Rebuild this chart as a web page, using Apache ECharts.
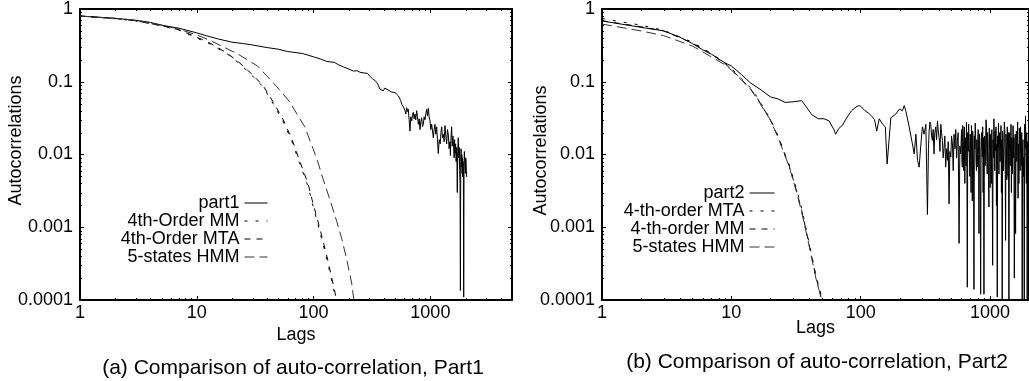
<!DOCTYPE html>
<html><head><meta charset="utf-8">
<script src="https://cdn.jsdelivr.net/npm/echarts@6/dist/echarts.min.js"></script>
<style>html,body{margin:0;padding:0;background:#fff}#c{width:1029px;height:381px}</style>
</head><body><div id="c"></div>
<script>
// ---------- tick definitions ----------
const X_TICKS = [1, 10, 100, 1000];
const X_TICK_LABELS = ['1', '10', '100', '1000'];
const Y_TICKS = [0.0001, 0.001, 0.01, 0.1, 1];
const Y_TICK_LABELS = ['0.0001', '0.001', '0.01', '0.1', '1'];
const MINOR_X = [2,3,4,5,6,7,8,9,20,30,40,50,60,70,80,90,200,300,400,500,600,700,800,900,2000,3000,4000];
const MINOR_Y = [0.0002,0.0003,0.0004,0.0005,0.0006,0.0007,0.0008,0.0009,
                 0.002,0.003,0.004,0.005,0.006,0.007,0.008,0.009,
                 0.02,0.03,0.04,0.05,0.06,0.07,0.08,0.09,
                 0.2,0.3,0.4,0.5,0.6,0.7,0.8,0.9];

// ---------- panel (a) : Part1 ----------
const LEFT_NAMES = ['part1', '4th-Order MM', '4th-Order MTA', '5-states HMM'];
const PART1 = [[1,0.80],[2,0.745],[3,0.70],[4,0.655],[5,0.60],[7,0.545],[10,0.47],[12,0.43],[15,0.39],[20,0.35],[25,0.335],[30,0.32],[40,0.295],[50,0.28],[60,0.26],[80,0.245],[100,0.22],[115,0.205],[130,0.19],[150,0.185],[165,0.17],[180,0.16],[200,0.15],[220,0.14],[235,0.142],[250,0.135],[270,0.132],[290,0.13],[305,0.118],[320,0.11],[335,0.104],[350,0.097],[360,0.088],[370,0.079],[382,0.081],[395,0.075],[408,0.082],[420,0.08],[435,0.077],[451,0.075],[466,0.072],[482,0.074],[498,0.071],[515,0.067],[532,0.064],[548,0.061],[558,0.055],[568,0.049],[578,0.052],[588,0.045],[598,0.043],[607,0.040],[617,0.036],[627,0.044],[637,0.039],[647,0.042],[658,0.030],[669,0.021],[680,0.033],[692,0.029],[703,0.035],[714,0.038],[726,0.031],[738,0.036],[750,0.030],[763,0.040],[776,0.033],[789,0.026],[802,0.031],[815,0.022],[828,0.028],[842,0.032],[856,0.024],[870,0.026],[884,0.033],[899,0.030],[914,0.036],[930,0.042],[945,0.034],[961,0.043],[976,0.033],[992,0.029],[1009,0.022],[1026,0.026],[1043,0.021],[1060,0.017],[1077,0.022],[1095,0.026],[1113,0.019],[1132,0.024],[1150,0.016],[1169,0.0103],[1191,0.016],[1214,0.014],[1232,0.020],[1250,0.024],[1270,0.017],[1291,0.019],[1312,0.015],[1334,0.025],[1356,0.018],[1379,0.014],[1401,0.022],[1424,0.019],[1447,0.012],[1471,0.015],[1484,0.0097],[1502,0.017],[1521,0.024],[1540,0.013],[1559,0.018],[1578,0.014],[1597,0.009],[1612,0.016],[1626,0.0103],[1645,0.014],[1662,0.008],[1679,0.0125],[1690,0.007],[1700,0.003],[1716,0.011],[1733,0.017],[1750,0.009],[1767,0.0125],[1780,0.006],[1795,0.004],[1808,0.000135],[1820,0.008],[1832,0.012],[1845,0.0067],[1858,0.010],[1870,0.0055],[1882,0.009],[1893,0.0049],[1905,0.008],[1918,0.006],[1930,0.00011],[1942,0.007],[1954,0.011],[1965,0.0092],[1980,0.007],[1994,0.0055],[2007,0.009],[2020,0.0083],[2034,0.006],[2048,0.0049]];
const MM_A = [[1,0.80],[2,0.735],[3,0.685],[5,0.585],[7,0.515],[10,0.40],[13,0.33],[18,0.245],[23,0.18],[30,0.12],[37,0.085],[45,0.05],[55,0.028],[65,0.0155],[76,0.0075],[90,0.0036],[97,0.0022],[109,0.0011],[117,0.0007],[130,0.00036],[138,0.00024],[152,0.00012],[160,0.00008]];
const MTA_A = [[1,0.80],[2,0.74],[3,0.69],[5,0.59],[7,0.52],[10,0.41],[13,0.34],[18,0.25],[23,0.185],[30,0.125],[37,0.088],[45,0.053],[55,0.03],[65,0.0165],[76,0.0082],[90,0.0039],[97,0.0024],[109,0.0012],[117,0.00078],[130,0.0004],[138,0.00026],[152,0.00013],[162,0.00008]];
const HMM_A = [[1,0.80],[2,0.745],[3,0.70],[5,0.60],[7,0.53],[10,0.44],[13,0.37],[17,0.30],[23,0.235],[33,0.165],[42,0.11],[51,0.078],[63,0.052],[72,0.036],[84,0.024],[99,0.012],[109,0.0078],[120,0.0047],[138,0.0024],[158,0.0012],[175,0.00068],[193,0.00035],[212,0.00017],[225,0.00008]];

// ---------- panel (b) : Part2 ----------
const RIGHT_NAMES = ['part2', '4-th-order MTA', '4-th-order MM', '5-states HMM '];
const PART2 = [[1,0.685],[2,0.56],[3,0.50],[4,0.41],[5,0.335],[6,0.275],[7,0.24],[8,0.205],[9,0.18],[10,0.165],[12,0.125],[14,0.097],[17,0.077],[20,0.062],[23,0.058],[26,0.052],[30,0.053],[35,0.055],[38,0.045],[42,0.035],[47,0.031],[52,0.031],[57,0.029],[62,0.022],[64,0.019],[68,0.023],[72,0.025],[78,0.032],[85,0.040],[92,0.045],[96,0.047],[100,0.046],[108,0.040],[115,0.037],[121,0.034],[128,0.030],[133,0.021],[139,0.031],[148,0.026],[155,0.024],[160,0.0074],[171,0.032],[176,0.034],[187,0.036],[199,0.042],[210,0.040],[217,0.047],[223,0.040],[237,0.024],[251,0.014],[259,0.0102],[267,0.019],[275,0.0083],[283,0.0067],[292,0.014],[300,0.024],[309,0.019],[319,0.026],[328,0.0015],[334,0.012],[338,0.021],[343,0.028],[348,0.026],[353,0.018],[358,0.0156],[363,0.022],[369,0.0102],[374,0.020],[380,0.024],[386,0.016],[392,0.029],[398,0.021],[404,0.017],[410,0.011],[416,0.026],[422,0.020],[428,0.0156],[434,0.009],[441,0.0126],[447,0.018],[454,0.0067],[461,0.012],[468,0.0083],[475,0.015],[482,0.0021],[489,0.011],[497,0.0092],[504,0.018],[512,0.014],[519,0.006],[527,0.019],[535,0.012],[543,0.022],[551,0.009],[559,0.0156],[567,0.020],[576,0.0006],[584,0.013],[593,0.0102],
  [602,0.022],[606,0.008],[611,0.0067],[615,0.025],[620,0.018],[625,0.006],[629,0.014],[633,0.024],[638,0.004],[643,0.012],[648,0.017],[652,0.007],[657,0.028],[662,0.009],[667,0.00015],[672,0.020],[677,0.011],[683,0.026],[688,0.0156],[693,0.009],[698,0.005],[703,0.019],[708,0.0083],[713,0.003],[718,0.025],[723,0.012],[729,0.0023],[734,0.021],[740,0.014],[745,0.006],[751,0.00014],[756,0.018],[762,0.012],[768,0.027],[774,0.017],[779,0.008],[785,0.006],[791,0.016],[797,0.0067],[803,0.013],[809,0.022],[815,0.010],[821,0.00082],[827,0.019],[833,0.015],[839,0.005],[846,0.00012],[852,0.011],[858,0.020],[864,0.014],[871,0.0092],[877,0.024],[884,0.003],[890,0.017],[897,0.00012],[903,0.009],[910,0.018],[917,0.007],[924,0.0126],[930,0.030],[937,0.025],[944,0.008],[951,0.0054],[958,0.020],[965,0.014],[972,0.0045],[980,0.0019],[987,0.023],[995,0.011],[1002,0.0035],[1010,0.019],[1017,0.012],[1025,0.004],[1032,0.022],[1040,0.0054],[1047,0.0003],[1055,0.016],[1063,0.009],[1071,0.031],[1079,0.015],[1087,0.006],[1095,0.021],[1104,0.0113],[1112,0.024],[1120,0.002],[1128,0.014],[1137,0.00011],[1145,0.018],[1154,0.012],[1162,0.027],[1171,0.0054],[1179,0.013],[1188,0.020],[1197,0.008],[1206,0.017],[1215,0.025],[1224,0.003],[1233,0.016],[1242,0.00008],[1251,0.021],[1261,0.015],[1270,0.006],[1280,0.0092],[1289,0.028],[1299,0.022],[1308,0.010],[1318,0.00066],[1328,0.019],[1338,0.012],[1348,0.0045],[1358,0.024],[1368,0.013],[1378,0.005],[1388,0.020],[1399,0.00008],[1409,0.011],[1420,0.020],[1430,0.007],[1441,0.014],[1452,0.026],[1462,0.003],[1473,0.017],[1484,0.0054],[1495,0.013],[1506,0.025],[1517,0.009],[1529,0.017],[1540,0.0002],[1552,0.006],[1563,0.019],[1575,0.00082],[1586,0.012],[1598,0.021],[1610,0.008],[1622,0.0156],[1634,0.028],[1646,0.0025],[1658,0.014],[1671,0.004],[1683,0.023],[1696,0.019],[1708,0.006],[1721,0.024],[1733,0.011],[1746,0.007],[1759,0.020],[1772,0.00008],[1785,0.013],[1798,0.016],[1811,0.005],[1825,0.0092],[1838,0.0001],[1852,0.026],[1866,0.012],[1880,0.034],[1894,0.009],[1908,0.004],[1922,0.020],[1937,0.00008],[1951,0.015],[1966,0.012],[1983,0.005],[2000,0.020]];
const MTA_B = [[1,0.74],[2,0.60],[3,0.51],[5,0.35],[7,0.245],[9,0.18],[10,0.152],[12,0.11],[14,0.083],[16,0.06],[18,0.042],[20,0.031],[23,0.018],[25,0.012],[28,0.0072],[32,0.0033],[35,0.0018],[40,0.0006],[45,0.00022],[50,0.00011],[54,0.00007]];
const MM_B = [[1,0.69],[2,0.57],[3,0.50],[5,0.34],[7,0.24],[9,0.175],[10,0.148],[12,0.107],[14,0.081],[16,0.058],[18,0.041],[20,0.030],[23,0.0175],[25,0.0118],[28,0.007],[32,0.0031],[35,0.0017],[40,0.00057],[45,0.00021],[50,0.0001],[53,0.00007]];
const HMM_B = [[1,0.62],[2,0.50],[3,0.43],[5,0.31],[7,0.22],[9,0.17],[10,0.145],[12,0.105],[14,0.08],[16,0.057],[18,0.040],[20,0.030],[23,0.017],[25,0.0115],[28,0.0068],[32,0.003],[35,0.0016],[40,0.00055],[45,0.0002],[50,0.0001],[53,0.00007]];

const FONT = "'Liberation Sans', Arial, Helvetica, sans-serif";

function fmt(ticks, labels) {
  return function (v) {
    for (let i = 0; i < ticks.length; i++) if (Math.abs(v / ticks[i] - 1) < 1e-6) return labels[i];
    return '';
  };
}
function xAxis(gi, max, pos, main, nameGap) {
  return {
    type: 'log', logBase: 10, gridIndex: gi, min: 1, max: max, position: pos,
    name: main ? 'Lags' : '', nameLocation: 'middle', nameGap: nameGap, nameMoveOverlap: false,
    nameTextStyle: { fontSize: 18, color: '#000', fontFamily: FONT },
    axisLine: { show: true, onZero: false, lineStyle: { color: '#000', width: 2 } },
    axisTick: { show: true, inside: true, length: 4, lineStyle: { color: '#000', width: 1 } },
    axisLabel: { show: main, margin: 4, fontSize: 18, color: '#000', fontFamily: FONT,
                 showMaxLabel: false, formatter: fmt(X_TICKS, X_TICK_LABELS) },
    splitLine: { show: false }, minorTick: { show: false }, minorSplitLine: { show: false }
  };
}
function yAxis(gi, pos, main, nameGap, shiftUp) {
  return {
    type: 'log', logBase: 10, gridIndex: gi, min: 0.0001, max: 1, position: pos,
    name: main ? 'Autocorrelations' : '', nameLocation: 'middle', nameGap: nameGap, nameRotate: 90,
    nameMoveOverlap: false,
    nameTextStyle: { fontSize: 18, color: '#000', fontFamily: FONT, padding: [0, 0, 0, 2 * (shiftUp || 0)] },
    axisLine: { show: true, onZero: false, lineStyle: { color: '#000', width: 2 } },
    axisTick: { show: true, inside: true, length: 4, lineStyle: { color: '#000', width: 1 } },
    axisLabel: { show: main, margin: 7, fontSize: 18, color: '#000', fontFamily: FONT,
                 formatter: fmt(Y_TICKS, Y_TICK_LABELS) },
    splitLine: { show: false }, minorTick: { show: false }, minorSplitLine: { show: false }
  };
}
function line(name, data, xi, yi, dash, color) {
  return {
    name: name, type: 'line', xAxisIndex: xi, yAxisIndex: yi, data: data,
    symbol: 'none', showSymbol: false, smooth: false, animation: false, silent: true,
    lineStyle: { color: color || '#000', width: 1, type: dash || 'solid' },
    itemStyle: { color: color || '#000' }, clip: true
  };
}
function minorTicks(xi, yi, xmax) {
  const data = [];
  MINOR_X.filter(v => v < xmax).forEach(v => data.push([v, 1, 0]));
  MINOR_Y.forEach(v => data.push([1, v, 1]));
  return {
    type: 'custom', xAxisIndex: xi, yAxisIndex: yi, silent: true, clip: false, animation: false,
    data: data,
    renderItem: function (params, api) {
      const cs = params.coordSys;
      const p = api.coord([api.value(0), api.value(1)]);
      const L = 2, st = { stroke: '#000', lineWidth: 1 };
      if (api.value(2) === 0) {
        const x = Math.round(p[0]) + 0.5;
        return { type: 'group', children: [
          { type: 'line', shape: { x1: x, y1: cs.y + cs.height, x2: x, y2: cs.y + cs.height - L }, style: st },
          { type: 'line', shape: { x1: x, y1: cs.y, x2: x, y2: cs.y + L }, style: st }
        ]};
      }
      const y = Math.round(p[1]) + 0.5;
      return { type: 'group', children: [
        { type: 'line', shape: { x1: cs.x, y1: y, x2: cs.x + L, y2: y }, style: st },
        { type: 'line', shape: { x1: cs.x + cs.width, y1: y, x2: cs.x + cs.width - L, y2: y }, style: st }
      ]};
    }
  };
}
const legendBase = {
  orient: 'vertical', align: 'right', itemHeight: 10, itemGap: 0, padding: 0, selectedMode: false,
  itemStyle: { opacity: 0, color: 'rgba(0,0,0,0)', borderWidth: 0 },
  lineStyle: { width: 1 },
  textStyle: { fontSize: 18, lineHeight: 18, color: '#000', fontFamily: FONT }
};

const chart = echarts.init(document.getElementById('c'), null, { renderer: 'canvas' });
chart.setOption({
  animation: false,
  backgroundColor: '#fff',
  grid: [
    { left: 80, top: 8, width: 432, height: 292 },
    { left: 602, top: 8, width: 428, height: 292 }
  ],
  xAxis: [
    xAxis(0, 5000, 'bottom', true, 26), xAxis(0, 5000, 'top', false, 0),
    xAxis(1, 2000, 'bottom', true, 19), xAxis(1, 2000, 'top', false, 0)
  ],
  yAxis: [
    yAxis(0, 'left', true, 55, 14), yAxis(0, 'right', false, 0),
    yAxis(1, 'left', true, 52, 4), yAxis(1, 'right', false, 0)
  ],
  legend: [
    Object.assign({}, legendBase, { data: LEFT_NAMES, right: 761, top: 194, itemWidth: 23 }),
    Object.assign({}, legendBase, { data: RIGHT_NAMES, right: 254, top: 184, itemWidth: 25,
      formatter: n => n.trim() })
  ],
  graphic: [
    { type: 'text', x: 293, y: 368, silent: true,
      style: { text: '(a) Comparison of auto-correlation, Part1', textAlign: 'center', textVerticalAlign: 'middle',
               fontSize: 21, fontFamily: FONT, fill: '#000' } },
    { type: 'text', x: 817, y: 362, silent: true,
      style: { text: '(b) Comparison of auto-correlation, Part2', textAlign: 'center', textVerticalAlign: 'middle',
               fontSize: 21, fontFamily: FONT, fill: '#000' } }
  ],
  series: [
    minorTicks(0, 0, 5000),
    line(LEFT_NAMES[0], PART1, 0, 0, 'solid'),
    line(LEFT_NAMES[1], MM_A, 0, 0, [3, 8]),
    line(LEFT_NAMES[2], MTA_A, 0, 0, [6, 6]),
    line(LEFT_NAMES[3], HMM_A, 0, 0, [10, 5], '#333'),
    minorTicks(2, 2, 2000),
    line(RIGHT_NAMES[0], PART2, 2, 2, 'solid'),
    line(RIGHT_NAMES[1], MTA_B, 2, 2, [3, 8]),
    line(RIGHT_NAMES[2], MM_B, 2, 2, [6, 6]),
    line(RIGHT_NAMES[3], HMM_B, 2, 2, [10, 5], '#333')
  ]
});
</script></body></html>
